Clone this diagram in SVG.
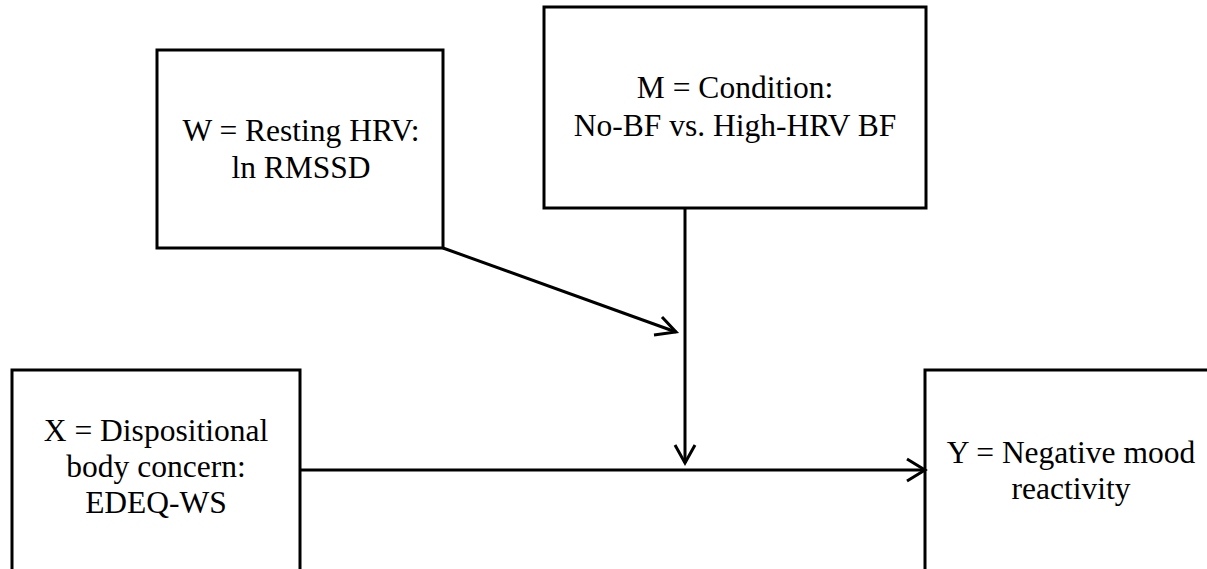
<svg xmlns="http://www.w3.org/2000/svg" width="1207" height="569" viewBox="0 0 1207 569">
  <style>
    .box { fill: #ffffff; stroke: #000000; stroke-width: 3; }
    .lbl { font-family: "Liberation Serif", "Times New Roman", serif; font-size: 31.5px; fill: #000000; text-anchor: middle; }
    .link { fill: none; stroke: #000000; stroke-width: 3; }
    .head { fill: none; stroke: #000000; stroke-width: 3; stroke-linecap: butt; stroke-linejoin: miter; }
  </style>
  <rect width="1207" height="569" fill="#ffffff"/>

  <!-- Moderator W -->
  <g id="node-w">
    <rect class="box" x="157" y="50" width="286" height="198"/>
    <text class="lbl" x="301" y="141">W = Resting HRV:</text>
    <text class="lbl" x="301" y="178">ln RMSSD</text>
  </g>

  <!-- Moderator M -->
  <g id="node-m">
    <rect class="box" x="544" y="7" width="382" height="201"/>
    <text class="lbl" x="735" y="98">M = Condition:</text>
    <text class="lbl" x="735" y="136">No-BF vs. High-HRV BF</text>
  </g>

  <!-- Predictor X -->
  <g id="node-x">
    <rect class="box" x="12" y="370" width="288" height="210"/>
    <text class="lbl" x="156" y="441">X = Dispositional</text>
    <text class="lbl" x="156" y="477">body concern:</text>
    <text class="lbl" x="156" y="513">EDEQ-WS</text>
  </g>

  <!-- Outcome Y -->
  <g id="node-y">
    <rect class="box" x="925" y="370" width="300" height="210"/>
    <text class="lbl" x="1071" y="463">Y = Negative mood</text>
    <text class="lbl" x="1071" y="499">reactivity</text>
  </g>

  <!-- Paths -->
  <g id="connectors">
    <line class="link" x1="443" y1="248" x2="676" y2="332"/>
    <polyline class="head" points="662,317 676,332 654,335"/>
    <line class="link" x1="685" y1="208" x2="685" y2="463"/>
    <polyline class="head" points="675,445 685,463 695,445"/>
    <line class="link" x1="300" y1="470" x2="925" y2="470"/>
    <polyline class="head" points="907,459 925,470 907,481"/>
  </g>
</svg>
